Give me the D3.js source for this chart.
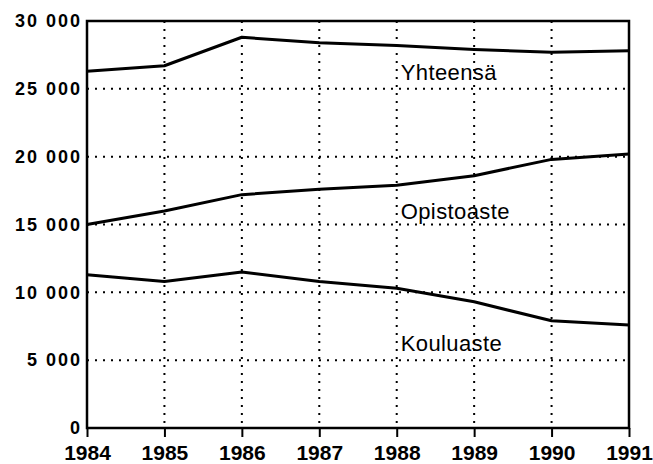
<!DOCTYPE html>
<html>
<head>
<meta charset="utf-8">
<script src="https://cdn.jsdelivr.net/npm/d3@7"></script>
<style>
    body { margin: 0; background: #fff; }
    text { font-family: "Liberation Sans", Arial, sans-serif; fill: #000; }
</style>
</head>
<body>
<script>
// Data
const years = [1984, 1985, 1986, 1987, 1988, 1989, 1990, 1991];
const yhteensa = [26300, 26700, 28800, 28400, 28200, 27900, 27700, 27800];
const opistoaste = [15000, 16000, 17200, 17600, 17900, 18600, 19800, 20200];
const kouluaste = [11300, 10800, 11500, 10800, 10300, 9300, 7900, 7600];
const seriesNames = ["Yhteensä", "Opistoaste", "Kouluaste"];
const yTicks = [0, 5000, 10000, 15000, 20000, 25000, 30000];

ShowLineChart();

function ShowLineChart() {
    const width = 653;
    const height = 464;
    const margin = {top: 21, right: 24, bottom: 36, left: 87};
    const inner_width = width - margin.left - margin.right;
    const inner_height = height - margin.top - margin.bottom;

    var svg = d3.select("body").append("svg")
        .attr('width', width)
        .attr('height', height);
    var chart = svg.append('g')
        .attr('transform', `translate(${margin.left}, ${margin.top})`);

    var xscale = d3.scaleLinear()
        .domain( [d3.min(years), d3.max(years)] )
        .range( [0, inner_width] );
    var yscale = d3.scaleLinear()
        .domain( [0, 30000] )
        .range( [inner_height, 0] );

    const fmt = d3.formatLocale({decimal: ",", thousands: " ", grouping: [3], currency: ["", ""]}).format(",");

    // dotted grid
    chart.append('g').selectAll('line')
        .data(yTicks.filter(d => d > 0 && d < 30000))
        .join('line')
        .attr('x1', 0).attr('x2', inner_width)
        .attr('y1', d => yscale(d)).attr('y2', d => yscale(d))
        .attr('stroke', '#000').attr('stroke-width', 2)
        .attr('stroke-dasharray', '2,6');
    chart.append('g').selectAll('line')
        .data(years.slice(1, -1))
        .join('line')
        .attr('x1', d => xscale(d)).attr('x2', d => xscale(d))
        .attr('y1', 0).attr('y2', inner_height)
        .attr('stroke', '#000').attr('stroke-width', 2)
        .attr('stroke-dasharray', '2,6');

    // frame
    chart.append('rect')
        .attr('x', 0).attr('y', 0)
        .attr('width', inner_width).attr('height', inner_height)
        .attr('fill', 'none').attr('stroke', '#000').attr('stroke-width', 2.5);

    // x axis
    var xaxis = chart.append('g')
        .attr('transform', `translate(0, ${inner_height})`)
        .call(d3.axisBottom(xscale).tickValues(years).tickFormat(d3.format('d')).tickSize(9).tickPadding(8));
    xaxis.select('.domain').remove();
    xaxis.selectAll('line').attr('stroke-width', 2);
    xaxis.selectAll('text')
        .attr('font-size', 21).attr('font-weight', 'bold')
        .attr('font-family', '"Liberation Sans", Arial, sans-serif');

    // y axis
    var yaxis = chart.append('g')
        .call(d3.axisLeft(yscale).tickValues(yTicks).tickFormat(fmt).tickSize(0).tickPadding(5));
    yaxis.select('.domain').remove();
    yaxis.selectAll('text')
        .attr('font-size', 18).attr('font-weight', 'bold')
        .attr('letter-spacing', 2)
        .attr('font-family', '"Liberation Sans", Arial, sans-serif');

    // lines
    const series = [yhteensa, opistoaste, kouluaste];
    var line = d3.line()
        .x((d, i) => xscale(years[i]))
        .y(d => yscale(d));
    chart.selectAll('path.series')
        .data(series)
        .join('path')
        .attr('class', 'series')
        .attr('d', line)
        .attr('fill', 'none')
        .attr('stroke', '#000')
        .attr('stroke-width', 3)
        .attr('stroke-linejoin', 'round');

    // series labels
    const labelY = [25650, 15400, 5700];
    chart.selectAll('text.label')
        .data(seriesNames)
        .join('text')
        .attr('class', 'label')
        .attr('x', xscale(1988) + 4)
        .attr('y', (d, i) => yscale(labelY[i]))
        .attr('font-size', 22)
        .attr('letter-spacing', 0.4)
        .text(d => d);
}
</script>
</body>
</html>
